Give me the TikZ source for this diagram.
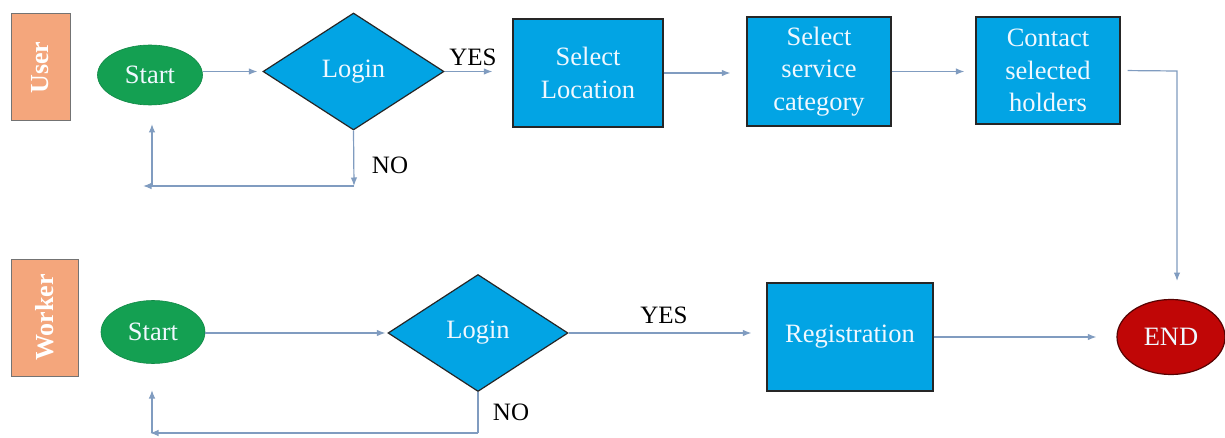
\documentclass[tikz,border=0pt]{standalone}
\usepackage{fontspec}
\setmainfont{Liberation Serif}
\usetikzlibrary{shapes.geometric,arrows.meta,calc}
\definecolor{boxblue}{RGB}{2,164,228}
\definecolor{startgreen}{RGB}{20,160,82}
\definecolor{lanefill}{RGB}{244,166,124}
\definecolor{endred}{RGB}{192,6,6}
\definecolor{arrowc}{RGB}{128,156,192}
\definecolor{txtw}{RGB}{240,248,255}
\begin{document}
\begin{tikzpicture}[x=1pt,y=-1pt,
  every node/.style={font=\fontsize{26.5}{32.5}\selectfont, inner sep=0pt},
  procbox/.style={draw=black!85, line width=1.2pt, fill=boxblue, text=txtw, align=center},
  decis/.style={diamond, draw=black!85, line width=1.2pt, fill=boxblue, text=txtw},
  startell/.style={ellipse, fill=startgreen, draw=startgreen!85!black, line width=0.6pt, text=txtw},
  endell/.style={ellipse, fill=endred, draw=endred!45!black, line width=1.2pt, text=txtw},
  lane/.style={draw=black!55, line width=1pt, fill=lanefill, text=white, rotate=90, font=\fontsize{26}{30}\selectfont\bfseries},
  lbl/.style={text=black, font=\fontsize{25}{30}\selectfont},
  arr/.style={draw=arrowc, line width=1.2pt, -{Latex[length=8.5pt,width=6.5pt]}},
  ln/.style={draw=arrowc, line width=1.2pt}
]
\useasboundingbox (0,0) rectangle (1225,438);
\fill[white] (0,0) rectangle (1225,438);

% lanes
\node[lane, minimum width=107pt, minimum height=59pt] (luser) at (40.5,67.5) {User};
\node[lane, minimum width=117pt, minimum height=67pt] (lworker) at (44.5,317.5) {Worker};

% user row
\node[startell, minimum width=105pt, minimum height=60pt] (ustart) at (150,75) {Start};
\node[decis, minimum width=181pt, minimum height=117pt] (ulogin) at (353.5,71.5) {Login};
\node[procbox, minimum width=150pt, minimum height=108pt] (loc) at (588,73) {Select\\Location};
\node[procbox, minimum width=144pt, minimum height=109pt] (svc) at (819,71.5) {Select\\service\\category};
\node[procbox, minimum width=144pt, minimum height=107pt] (contact) at (1048,70.5) {Contact\\selected\\holders};

% worker row
\node[startell, minimum width=104pt, minimum height=63pt] (wstart) at (153,332) {Start};
\node[decis, minimum width=180pt, minimum height=117pt] (wlogin) at (478,333) {Login};
\node[procbox, minimum width=166pt, minimum height=108pt] (reg) at (850,337) {Registration};
\node[endell, minimum width=108pt, minimum height=75pt] (endn) at (1171,337) {END};

% labels
\node[lbl] (uyes) at (473,57) {YES};
\node[lbl] (uno) at (390,165) {NO};
\node[lbl] (wyes) at (664,315) {YES};
\node[lbl] (wno) at (511,412) {NO};

% coordinates
\coordinate (c1) at (1177,71);
\coordinate (c2) at (1177,281);
\coordinate (un1) at (354,186);
\coordinate (un2) at (143,186);
\coordinate (un3) at (152,186);
\coordinate (un4) at (152,124);
\coordinate (wn1) at (478,433);
\coordinate (wn2) at (150,433);
\coordinate (wn3) at (152,433);
\coordinate (wn4) at (152,390);

% user connectors
\draw[arr, shorten >=5pt] (ustart.east |- ulogin.west) -- (ulogin.west);
\draw[arr, shorten >=20pt] (ulogin.east) -- (loc.west |- ulogin.east);
\draw[arr, shorten >=16pt] (loc.east) -- (svc.west |- loc.east);
\draw[arr, shorten >=11pt] (svc.east) -- (contact.west |- svc.east);
\draw[arr, shorten <=7pt] (contact.east) -- (c1) -- (c2);
\draw[arr] (ulogin.south) -- (un1);
\draw[arr] (un1) -- (un2);
\draw[arr] (un3) -- (un4);

% worker connectors
\draw[arr, shorten >=2pt] (wstart.east |- wlogin.west) -- (wlogin.west);
\draw[arr, shorten >=15pt] (wlogin.east) -- (reg.west |- wlogin.east);
\draw[arr, shorten >=20pt] (reg.east) -- (endn.west);
\draw[ln] (wlogin.south) -- (wn1);
\draw[arr] (wn1) -- (wn2);
\draw[arr] (wn3) -- (wn4);
\end{tikzpicture}
\end{document}
